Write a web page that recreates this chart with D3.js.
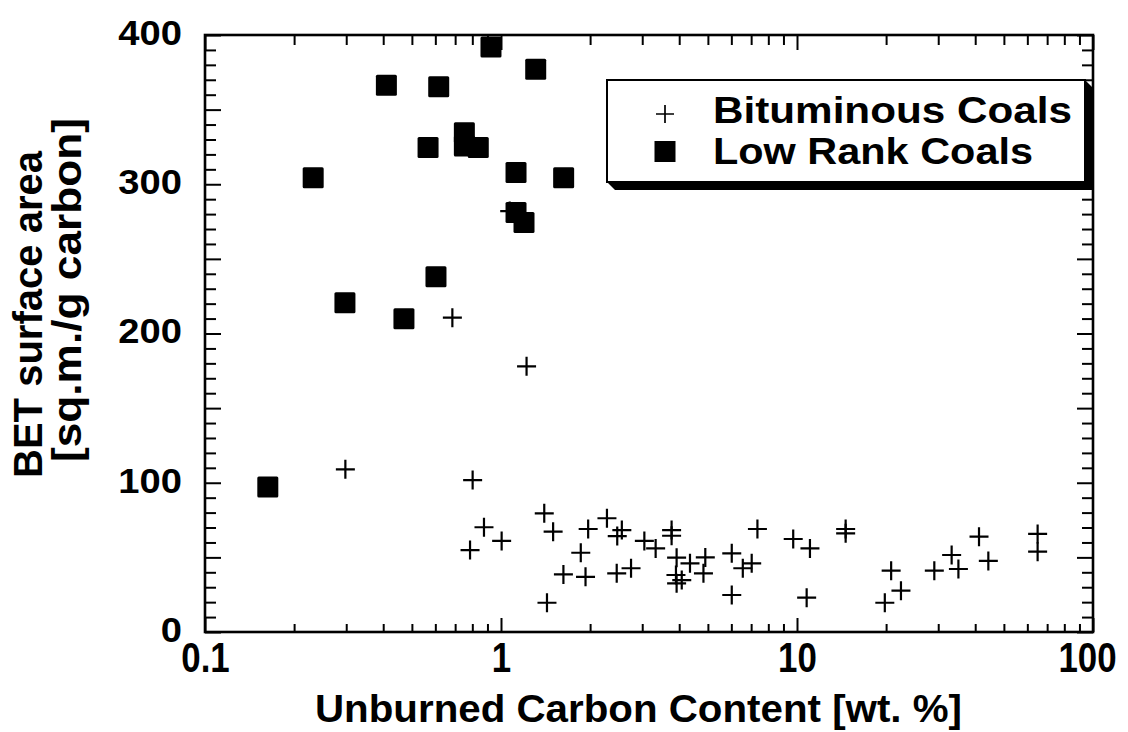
<!DOCTYPE html>
<html>
<head>
<meta charset="utf-8">
<script src="https://cdn.jsdelivr.net/npm/d3@7"></script>
<style>
  body { margin: 0; background: #fff; }
  svg text { font-family: "Liberation Sans", Arial, Helvetica, sans-serif; font-weight: bold; fill: #000; }
</style>
</head>
<body>
<svg id="chart" width="1128" height="732"></svg>
<script>
// Bituminous coals (+ markers): unburned carbon [wt.%], BET area [m2/g C]
const bitX = [0.685, 1.07, 1.22, 0.298, 0.802, 1.40, 0.876, 1.50, 1.97, 2.28,
              2.56, 2.47, 3.05, 1.005, 0.786, 1.86, 1.625, 1.93, 2.46, 2.75,
              1.43, 3.33, 3.77, 3.77, 3.92, 4.35, 4.90, 3.90, 4.08, 3.92,
              4.83, 6.02, 6.56, 7.03, 6.02, 7.35, 9.71, 11.06, 10.78, 14.6,
              14.6, 20.8, 19.8, 22.45, 29.1, 33.3, 35.1, 41.2, 44.3, 65.0, 65.0];
const bitY = [210.6, 282, 178, 109, 101.8, 79.5, 70.2, 67.2, 69, 76.2,
              68.3, 64.3, 61, 61, 54.9, 53.1, 38.6, 37, 39.3, 42.7,
              19.6, 56, 68.3, 64.5, 49.8, 46, 50, 38.2, 34.8, 32.6,
              39.3, 52.7, 42.7, 46, 24.8, 69, 62.3, 56, 23, 69,
              66.1, 41.1, 19.6, 27.7, 41.1, 51.6, 42.2, 63.9, 47.6, 65.7, 53.8];

// Low rank coals (filled squares)
const lowX = [0.925, 1.31, 0.41, 0.616, 0.752, 0.752, 0.838, 0.567, 0.232,
              1.124, 1.628, 1.124, 1.196, 0.603, 0.297, 0.47, 0.163];
const lowY = [392, 377, 366.3, 365.4, 334.5, 325.6, 324.7, 324.7, 304.4,
              307.8, 304.4, 281, 274.3, 238, 220.6, 209.9, 97.2];

const xTicks = [0.1, 1, 10, 100];
const xTickLabels = ["0.1", "1", "10", "100"];
const yTicks = [0, 100, 200, 300, 400];
const seriesNames = ["Bituminous Coals", "Low Rank Coals"];

const svg = d3.select("#chart");
const plotL = 205, plotR = 1093, plotT = 35, plotB = 632;

const x = d3.scaleLog().domain([0.1, 100]).range([plotL, plotR]);
const y = d3.scaleLinear().domain([0, 400]).range([plotB, plotT]);

// stretch or squeeze text horizontally to match the original lettering
function squeeze(sel, sx) {
    sel.each(function() {
        const w = this.getComputedTextLength();
        d3.select(this).attr("textLength", w * sx).attr("lengthAdjust", "spacingAndGlyphs");
    });
}

const xMinor = [];
[0.1, 1, 10].forEach(d => { for (let k = 2; k <= 9; k++) xMinor.push(d * k); });
const yMinor = d3.range(0, 401, 10).filter(v => v % 50 !== 0);
const yMid = d3.range(0, 401, 50);

function axisGroup(axis, tx, ty) {
    const g = svg.append("g").attr("transform", "translate(" + tx + "," + ty + ")").call(axis);
    g.select(".domain").remove();
    g.selectAll("line").attr("stroke", "#000").attr("stroke-width", 2);
    return g;
}

// bottom axis
axisGroup(d3.axisBottom(x).tickValues(xMinor).tickSize(-8).tickFormat(""), 0, plotB);
const gx = axisGroup(d3.axisBottom(x).tickValues(xTicks).tickSize(-14).tickPadding(10)
    .tickFormat((d, i) => xTickLabels[i]), 0, plotB);
gx.selectAll("text").attr("font-size", 42)
    .attr("dx", d => d === 100 ? -6 : 0);
squeeze(gx.selectAll("text"), 0.83);

// top axis
axisGroup(d3.axisTop(x).tickValues(xMinor).tickSize(-10).tickFormat(""), 0, plotT);
axisGroup(d3.axisTop(x).tickValues(xTicks).tickSize(-15).tickFormat(""), 0, plotT);

// left axis
axisGroup(d3.axisLeft(y).tickValues(yMinor).tickSize(-11).tickFormat(""), plotL, 0);
axisGroup(d3.axisLeft(y).tickValues(yMid).tickSize(-16).tickFormat(""), plotL, 0);
const gy = axisGroup(d3.axisLeft(y).tickValues(yTicks).tickSize(0).tickPadding(23), plotL, 0);
gy.selectAll("text").attr("font-size", 35).attr("dy", "0.27em");
squeeze(gy.selectAll("text"), 1.09);

// right axis
axisGroup(d3.axisRight(y).tickValues(yMinor).tickSize(-11).tickFormat(""), plotR, 0);
axisGroup(d3.axisRight(y).tickValues(yMid).tickSize(-16).tickFormat(""), plotR, 0);

// data
const plus = (cx, cy, s) => "M" + (cx - s / 2) + "," + cy + "H" + (cx + s / 2) +
    "M" + cx + "," + (cy - s / 2) + "V" + (cy + s / 2);

svg.append("g").selectAll("path")
    .data(d3.zip(bitX, bitY))
    .enter().append("path")
    .attr("d", d => plus(x(d[0]), y(d[1]), 19))
    .attr("stroke", "#000").attr("stroke-width", 2.2).attr("fill", "none");

const sq = 21;
svg.append("g").selectAll("rect")
    .data(d3.zip(lowX, lowY))
    .enter().append("rect")
    .attr("x", d => x(d[0]) - sq / 2)
    .attr("y", d => y(d[1]) - sq / 2)
    .attr("width", sq).attr("height", sq)
    .attr("rx", 1.5)
    .attr("fill", "#000");

// frame
svg.append("rect")
    .attr("x", plotL).attr("y", plotT)
    .attr("width", plotR - plotL).attr("height", plotB - plotT)
    .attr("fill", "none").attr("stroke", "#000").attr("stroke-width", 2.6);

// legend with drop shadow
const lx0 = 607, ly0 = 80, lx1 = 1085, ly1 = 182, off = 8;
svg.append("polygon")
    .attr("points", [[lx0, ly1], [lx0 + off, ly1 + off], [lx1 + off, ly1 + off],
                     [lx1 + off, ly0 + off], [lx1, ly0]].map(p => p.join(",")).join(" "))
    .attr("fill", "#000");
svg.append("rect")
    .attr("x", lx0).attr("y", ly0).attr("width", lx1 - lx0).attr("height", ly1 - ly0)
    .attr("fill", "#fff").attr("stroke", "#000").attr("stroke-width", 2);

svg.append("path").attr("d", plus(665, 114, 18))
    .attr("stroke", "#000").attr("stroke-width", 1.7);
svg.append("rect").attr("x", 654.5).attr("y", 141).attr("width", 21).attr("height", 21).attr("fill", "#000");

const leg = svg.append("g");
leg.append("text").attr("x", 713).attr("y", 123).attr("font-size", 36).text(seriesNames[0])
    .attr("textLength", 359).attr("lengthAdjust", "spacingAndGlyphs");
leg.append("text").attr("x", 713).attr("y", 164).attr("font-size", 36).text(seriesNames[1])
    .attr("textLength", 320).attr("lengthAdjust", "spacingAndGlyphs");

// axis titles
svg.append("text")
    .attr("x", 315).attr("y", 722)
    .attr("font-size", 39)
    .attr("textLength", 647).attr("lengthAdjust", "spacingAndGlyphs")
    .text("Unburned Carbon Content [wt. %]");

svg.append("text")
    .attr("transform", "translate(42,478) rotate(-90)")
    .attr("font-size", 40)
    .attr("textLength", 327).attr("lengthAdjust", "spacingAndGlyphs")
    .text("BET surface area");
svg.append("text")
    .attr("transform", "translate(81,462) rotate(-90)")
    .attr("font-size", 40)
    .attr("textLength", 344).attr("lengthAdjust", "spacingAndGlyphs")
    .text("[sq.m./g carbon]");
</script>
</body>
</html>
